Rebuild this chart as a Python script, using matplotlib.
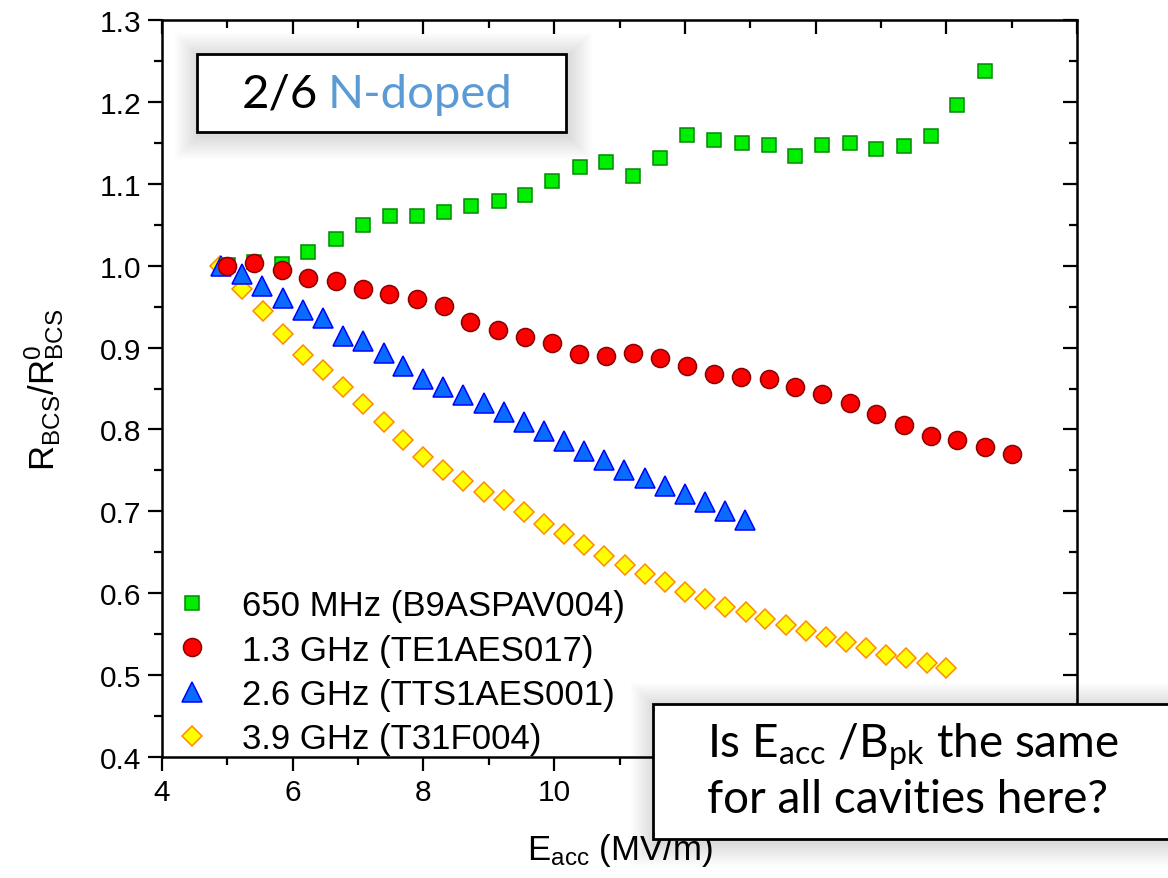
import matplotlib
matplotlib.use("Agg")
import matplotlib.pyplot as plt
from matplotlib.patches import Rectangle
from matplotlib.ticker import MultipleLocator, FormatStrFormatter, FuncFormatter

plt.rcParams['font.family'] = ['Liberation Sans', 'DejaVu Sans']

W, H = 1168, 879

labels = ["650 MHz (B9ASPAV004)", "1.3 GHz (TE1AES017)",
          "2.6 GHz (TTS1AES001)", "3.9 GHz (T31F004)"]

green_x = [5.01, 5.41, 5.83, 6.24, 6.66, 7.07, 7.49, 7.90, 8.31, 8.73, 9.15, 9.56,
           9.97, 10.39, 10.79, 11.21, 11.62, 12.04, 12.45, 12.87, 13.28, 13.69,
           14.10, 14.52, 14.93, 15.35, 15.76, 16.17, 16.59]
green_y = [1.001, 1.004, 1.002, 1.017, 1.033, 1.050, 1.061, 1.061, 1.066, 1.073,
           1.079, 1.086, 1.104, 1.121, 1.126, 1.110, 1.132, 1.159, 1.154, 1.150,
           1.147, 1.134, 1.147, 1.150, 1.143, 1.146, 1.158, 1.196, 1.238]

red_x = [4.99, 5.41, 5.83, 6.24, 6.66, 7.07, 7.48, 7.90, 8.31, 8.72, 9.14, 9.55,
         9.96, 10.38, 10.79, 11.21, 11.62, 12.04, 12.45, 12.86, 13.28, 13.69,
         14.10, 14.52, 14.93, 15.35, 15.76, 16.17, 16.59, 17.00]
red_y = [1.000, 1.003, 0.995, 0.985, 0.981, 0.972, 0.965, 0.959, 0.951, 0.931,
         0.922, 0.913, 0.906, 0.892, 0.890, 0.893, 0.887, 0.878, 0.868, 0.864,
         0.862, 0.852, 0.843, 0.832, 0.819, 0.806, 0.792, 0.787, 0.778, 0.770]

blue_x = [4.90, 5.23, 5.535, 5.85, 6.15, 6.46, 6.77, 7.07, 7.39, 7.69, 8.00, 8.30,
          8.61, 8.92, 9.23, 9.54, 9.85, 10.155, 10.46, 10.77, 11.07, 11.385,
          11.69, 12.00, 12.31, 12.61, 12.92]
blue_y = [1.000, 0.990, 0.975, 0.960, 0.946, 0.936, 0.914, 0.908, 0.893, 0.878,
          0.862, 0.852, 0.8425, 0.832, 0.821, 0.8095, 0.798, 0.7855, 0.774, 0.763,
          0.751, 0.741, 0.731, 0.7215, 0.711, 0.700, 0.689]

yellow_x = [4.89, 5.23, 5.54, 5.85, 6.15, 6.46, 6.765, 7.07, 7.39, 7.69, 8.00, 8.30,
            8.61, 8.92, 9.23, 9.54, 9.85, 10.155, 10.46, 10.77, 11.08, 11.39,
            11.70, 12.005, 12.31, 12.62, 12.93, 13.23, 13.54, 13.85, 14.16, 14.46,
            14.77, 15.08, 15.39, 15.70, 16.00]
yellow_y = [1.000, 0.972, 0.945, 0.917, 0.891, 0.873, 0.852, 0.831, 0.8095, 0.7875,
            0.766, 0.751, 0.737, 0.724, 0.714, 0.699, 0.684, 0.672, 0.659, 0.646,
            0.634, 0.6235, 0.6137, 0.602, 0.593, 0.583, 0.577, 0.5685, 0.561, 0.554,
            0.547, 0.540, 0.533, 0.5246, 0.5205, 0.5144, 0.5087]


def fx(px):
    return px / W


def fy(py):
    return 1 - py / H


def shadow_box(fig, left, top, right, bottom, z):
    # soft drop shadow: stack of faint rectangles growing outwards
    for i in range(12):
        g = 24 - 2 * i
        fig.add_artist(Rectangle((fx(left - g + 2), fy(bottom + g + 3)),
                                 (right - left + 2 * g) / W, (bottom - top + 2 * g) / H,
                                 transform=fig.transFigure, facecolor="black",
                                 edgecolor="none", alpha=0.011, zorder=z))
    fig.add_artist(Rectangle((fx(left), fy(bottom)), (right - left) / W,
                             (bottom - top) / H, transform=fig.transFigure,
                             facecolor="white", edgecolor="black", linewidth=2.0,
                             zorder=z + 0.1))


fig = plt.figure(figsize=(W / 100, H / 100), dpi=100)
ax = fig.add_axes([fx(162), fy(758), (1077 - 162) / W, (758 - 21) / H])

ms_kw = dict(linestyle="none", markeredgewidth=1.1)
ax.plot(yellow_x, yellow_y, marker="D", markersize=10, color="#ffff00",
        markerfacecolor="#ffff00", markeredgecolor="#ff8c00", label=labels[3], **ms_kw)
ax.plot(blue_x, blue_y, marker="^", markersize=14, markerfacecolor="#0a6cff",
        markeredgecolor="#0000ff", label=labels[2], **ms_kw)
ax.plot(green_x, green_y, marker="s", markersize=10.5, markerfacecolor="#00ee00",
        markeredgecolor="#008a00", label=labels[0], **ms_kw)
ax.plot(red_x, red_y, marker="o", markersize=13, markerfacecolor="#ff0000",
        markeredgecolor="#8b0000", label=labels[1], **ms_kw)

ax.set_xlim(4, 18)
ax.set_ylim(0.4, 1.3)
ax.xaxis.set_major_locator(MultipleLocator(2))
ax.xaxis.set_minor_locator(MultipleLocator(1))
# labels from 12 on sit behind the question box in the original
ax.xaxis.set_major_formatter(FuncFormatter(lambda v, p: f"{v:.0f}" if v < 11 else ""))
ax.yaxis.set_major_locator(MultipleLocator(0.1))
ax.yaxis.set_minor_locator(MultipleLocator(0.05))
ax.yaxis.set_major_formatter(FormatStrFormatter("%.1f"))
ax.tick_params(which="both", direction="out", width=1.6, labelsize=21.5, pad=5)
ax.tick_params(which="major", length=10)
ax.tick_params(which="minor", length=5.5)
for s in ax.spines.values():
    s.set_linewidth(1.8)

# mirrored ticks pointing inwards on top and right
top = ax.secondary_xaxis("top")
top.xaxis.set_major_locator(MultipleLocator(2))
top.xaxis.set_minor_locator(MultipleLocator(1))
top.tick_params(which="both", direction="in", width=1.6, labeltop=False)
top.tick_params(which="major", length=10)
top.tick_params(which="minor", length=5.5)
right = ax.secondary_yaxis("right")
right.yaxis.set_major_locator(MultipleLocator(0.1))
right.yaxis.set_minor_locator(MultipleLocator(0.05))
right.tick_params(which="both", direction="in", width=1.6, labelright=False)
right.tick_params(which="major", length=10)
right.tick_params(which="minor", length=5.5)

ax.set_xlabel(r"$\mathregular{E_{acc}}$ (MV/m)", fontsize=25, labelpad=18)
ax.set_ylabel(r"$\mathregular{R_{BCS}/R^{0}_{BCS}}$", fontsize=25, labelpad=24)

h, l = ax.get_legend_handles_labels()
order = [2, 3, 1, 0]
ax.legend([h[i] for i in order], [l[i] for i in order], loc="lower left",
          bbox_to_anchor=(0.015, 0.003), frameon=False, fontsize=25,
          handlelength=0.95, handletextpad=0.95, labelspacing=0.32,
          borderpad=0, borderaxespad=0)

# "2/6 N-doped" box
shadow_box(fig, 197, 55, 566, 133, 5)
fig.text(fx(242), fy(108), "2/6", fontsize=34, family="Lato",
         color="black", ha="left", va="baseline", zorder=6)
fig.text(fx(328), fy(108), "N-doped", fontsize=34, family="Lato",
         color="#5b9bd5", ha="left", va="baseline", zorder=6)

# question box, running off the right edge
shadow_box(fig, 653, 705, 1190, 840, 5)
fig.text(fx(707), fy(758), r"Is $\mathregular{E_{acc}}$ /$\mathregular{B_{pk}}$ the same",
         fontsize=33, family="Lato", ha="left", va="baseline", zorder=6)
fig.text(fx(707), fy(813), "for all cavities here?", fontsize=33, family="Lato",
         ha="left", va="baseline", zorder=6)

fig.savefig("out.png", dpi=100)
